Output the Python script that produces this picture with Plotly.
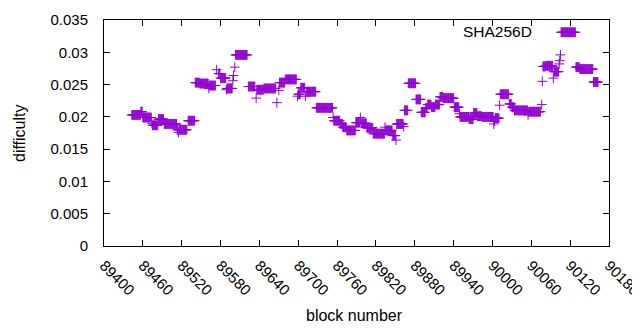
import plotly.graph_objects as go

# Runs of consecutive blocks sharing one difficulty value (start block, end block, difficulty)
run_start = [89443, 89457, 89460, 89474, 89475, 89484, 89493, 89513, 89515, 89516, 89530, 89541,
             89548, 89562, 89563, 89574, 89577, 89580, 89589, 89590, 89599, 89600, 89602, 89603,
             89623, 89635, 89636, 89647, 89667, 89670, 89671, 89680, 89699, 89700, 89704, 89711,
             89713, 89728, 89754, 89755, 89765, 89769, 89775, 89789, 89796, 89797, 89806, 89816,
             89834, 89835, 89846, 89851, 89852, 89863, 89864, 89870, 89882, 89890, 89897, 89900,
             89906, 89912, 89919, 89924, 89941, 89949, 89950, 89964, 89971, 89977, 89984, 90002,
             90003, 90004, 90011, 90012, 90026, 90030, 90034, 90055, 90056, 90076, 90077, 90078,
             90082, 90094, 90095, 90103, 90104, 90105, 90106, 90129, 90135, 90156]
run_end = [89456, 89459, 89473, 89474, 89483, 89492, 89512, 89514, 89515, 89528, 89540, 89547,
           89561, 89562, 89572, 89574, 89579, 89588, 89589, 89598, 89599, 89600, 89602, 89621,
           89633, 89635, 89646, 89665, 89667, 89670, 89679, 89697, 89699, 89703, 89710, 89711,
           89727, 89753, 89754, 89764, 89768, 89774, 89788, 89795, 89796, 89805, 89815, 89833,
           89834, 89845, 89850, 89851, 89862, 89863, 89869, 89881, 89889, 89896, 89899, 89905,
           89911, 89918, 89923, 89940, 89948, 89949, 89963, 89970, 89976, 89983, 90001, 90002,
           90003, 90010, 90011, 90025, 90029, 90033, 90054, 90055, 90074, 90076, 90077, 90081,
           90093, 90094, 90102, 90103, 90104, 90105, 90128, 90134, 90155, 90163]
run_value = [0.0203, 0.0208, 0.0199, 0.0190, 0.0187, 0.01965, 0.0189, 0.0180, 0.0176, 0.0180, 0.0194, 0.0253,
             0.02516, 0.0244, 0.02485, 0.0273, 0.0267, 0.0260, 0.0242, 0.0244, 0.0256, 0.0264, 0.0277, 0.0296,
             0.0247, 0.0229, 0.0242, 0.0244, 0.0222, 0.0241, 0.0253, 0.0258, 0.0232, 0.0235, 0.0245, 0.0232,
             0.0239, 0.0214, 0.0199, 0.0194, 0.0189, 0.0184, 0.0179, 0.0191, 0.0199, 0.0190, 0.0183, 0.0174,
             0.0184, 0.0179, 0.0171, 0.0164, 0.0189, 0.0185, 0.0210, 0.0252, 0.0227, 0.0207, 0.0214, 0.0219,
             0.0215, 0.0219, 0.0231, 0.0229, 0.0215, 0.0205, 0.0200, 0.01965, 0.0206, 0.0201, 0.0200, 0.0189,
             0.0193, 0.0198, 0.0218, 0.0235, 0.0220, 0.0215, 0.0210, 0.0203, 0.0208, 0.0219, 0.0255, 0.0278,
             0.0279, 0.0260, 0.0270, 0.0282, 0.0287, 0.0296, 0.0331, 0.0277, 0.0274, 0.0254]

x_tick_values = [89400, 89460, 89520, 89580, 89640, 89700, 89760, 89820, 89880, 89940, 90000, 90060, 90120, 90180]
y_tick_values = [0, 0.005, 0.01, 0.015, 0.02, 0.025, 0.03, 0.035]
y_tick_labels = ["0", "0.005", "0.01", "0.015", "0.02", "0.025", "0.03", "0.035"]
series_name = "SHA256D"

blocks, diffs = [], []
for s, e, v in zip(run_start, run_end, run_value):
    for b in range(s, e + 1):
        blocks.append(b)
        diffs.append(v)

color = "#9400D3"
font = "Liberation Sans, Arial, sans-serif"

fig = go.Figure()
fig.add_trace(go.Scatter(
    x=blocks, y=diffs, mode="markers", name=series_name, showlegend=False,
    marker=dict(symbol="cross-thin", size=7, line=dict(width=1, color=color), color=color),
))

# The page body has an 8px default margin; size the figure so it fills the rest of the window.
OFF = 8
W, H = 640 - OFF, 330 - OFF
# Plot area in window pixels: left 104, right 609, top 20, bottom 246
L = 104 - OFF
T = 20 - OFF
R = 640 - 609
B = 330 - 246
pw, ph = W - L - R, H - T - B


def px_x(x):
    return (x - OFF - L) / pw


def px_y(y):
    return 1 - (y - OFF - T) / ph


fig.update_layout(
    width=W, height=H,
    margin=dict(l=L, r=R, t=T, b=B, pad=0, autoexpand=False),
    paper_bgcolor="white", plot_bgcolor="white",
    font=dict(family=font, size=15, color="black"),
    xaxis=dict(range=[89400, 90180], tickvals=x_tick_values, ticktext=[str(v) for v in x_tick_values],
               tickangle=45, showgrid=False, zeroline=False, showline=True, linecolor="black",
               linewidth=1, mirror="ticks", ticks="inside", ticklen=6, tickcolor="black",
               automargin=False, ticklabelstandoff=4, ticklabeloverflow="allow",
               tickfont=dict(size=15)),
    yaxis=dict(range=[0, 0.035], tickvals=y_tick_values, ticktext=y_tick_labels,
               showgrid=False, zeroline=False, showline=True, linecolor="black",
               linewidth=1, mirror="ticks", ticks="inside", ticklen=6, tickcolor="black",
               automargin=False, ticklabelstandoff=12, ticklabeloverflow="allow",
               tickfont=dict(size=15)),
    annotations=[
        dict(text="difficulty", xref="paper", yref="paper", x=px_x(19), y=0.5,
             textangle=-90, showarrow=False, font=dict(size=16), xanchor="center", yanchor="middle"),
        dict(text="block number", xref="paper", yref="paper", x=px_x(354), y=px_y(315),
             showarrow=False, font=dict(size=16), xanchor="center", yanchor="middle"),
        dict(text=series_name, xref="paper", yref="paper", x=px_x(534), y=px_y(32),
             showarrow=False, font=dict(size=15.5), xanchor="right", yanchor="middle"),
    ],
)

fig.write_html("out.html")
